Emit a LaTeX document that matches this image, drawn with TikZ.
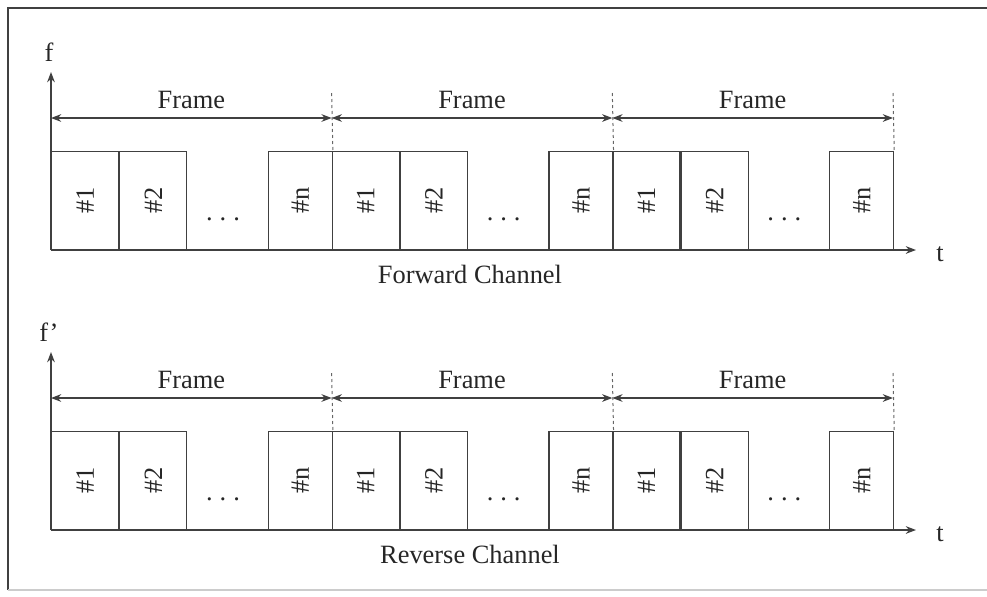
\documentclass[tikz,border=0pt]{standalone}
\usepackage{graphicx}
\usepackage{fontspec}
\setmainfont{Liberation Serif}
\usetikzlibrary{arrows.meta}

\begin{document}
\begin{tikzpicture}[%
  x=0.5pt, y=-0.5pt,
  line/.style = {line width=0.6pt, draw=black!75},
  divider/.style = {line width=0.5pt, draw=black!60, dash pattern=on 1.5pt off 1.5pt},
  slot/.style = {line, anchor=south west, inner sep=0pt,
                 minimum width=#1, minimum height=49pt},
  every node/.style = {font=\fontsize{13.2}{16}\selectfont, text=black!85},
  >={Stealth[scale=0.9]},
]

  \useasboundingbox (0,0) rectangle (987,596);

  % border of the figure
  \draw[line] (8,590) -- (8,8) -- (987,8);
  \draw[black!20, line width=0.6pt] (8,590) -- (987,590);

  \foreach \dy/\fl/\ch/\nm in {0/f/Forward Channel/fwd, 280/f’/Reverse Channel/rev} {

    \coordinate (\nm-o) at (51,250+\dy);
    \coordinate (\nm-ftop) at (51,72+\dy);
    \coordinate (\nm-tend) at (916,250+\dy);

    \draw[line,->] (\nm-o) -- (\nm-ftop);
    \draw[line,->] (\nm-o) -- (\nm-tend);

    \node (\nm-f) at (49,52+\dy) {\fl};
    \node (\nm-t) at (940,254+\dy) {t};
    \node (\nm-name) at (470,274+\dy) {\ch};

    \foreach \k in {0,1,2} {
      \pgfmathsetmacro\xa{51+280.67*\k}
      \pgfmathsetmacro\xb{51+280.67*(\k+1)}

      \coordinate (\nm-\k-l) at (\xa,118+\dy);
      \coordinate (\nm-\k-r) at (\xb,118+\dy);
      \coordinate (\nm-\k-top) at (\xb,93+\dy);

      \node[slot=33.5pt] (\nm-\k-1) at (\xa,250+\dy) {\rotatebox{90}{\#1}};
      \node[slot=33.5pt] (\nm-\k-2) at (\nm-\k-1.south east) {\rotatebox{90}{\#2}};
      \node (\nm-\k-dots) at (\xa+172,219+\dy) {.\hspace{3.5pt}.\hspace{3.5pt}.};
      \node[slot=32pt] (\nm-\k-n) at (\xb-64,250+\dy) {\rotatebox{90}{\#n}};

      \draw[divider] (\nm-\k-top) -- (\nm-\k-n.north east);
      \draw[line,<->] (\nm-\k-l) -- (\nm-\k-r);
      \node (\nm-\k-lbl) at ({(\xa+\xb)/2},100+\dy) {Frame};
    }
  }

\end{tikzpicture}
\end{document}
